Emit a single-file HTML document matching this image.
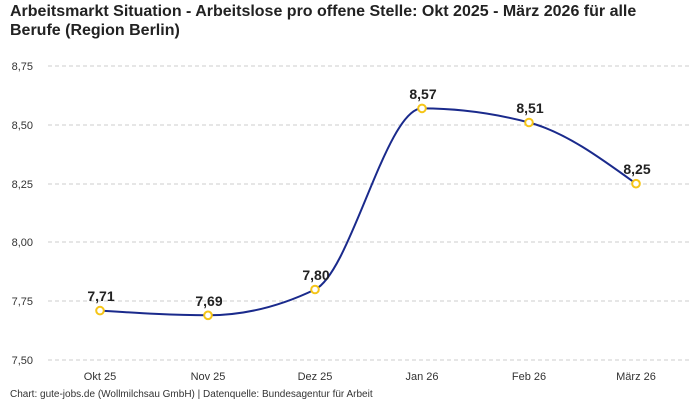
<!DOCTYPE html>
<html><head><meta charset="utf-8"><style>
body{margin:0;background:#fff;width:700px;height:400px;overflow:hidden;font-family:"Liberation Sans",sans-serif}
</style></head><body>
<svg width="700" height="400" xmlns="http://www.w3.org/2000/svg" font-family="Liberation Sans, sans-serif">
<rect width="700" height="400" fill="#fff"/>
<text x="10" y="16" font-size="16" font-weight="bold" fill="#222">Arbeitsmarkt Situation - Arbeitslose pro offene Stelle: Okt 2025 - März 2026 für alle</text>
<text x="10" y="35" font-size="16" font-weight="bold" fill="#222">Berufe (Region Berlin)</text>
<g stroke="#ccc" stroke-dasharray="4,3" stroke-width="1">
<line x1="48" x2="690" y1="66" y2="66"/><line x1="48" x2="690" y1="125" y2="125"/>
<line x1="48" x2="690" y1="184" y2="184"/><line x1="48" x2="690" y1="242" y2="242"/>
<line x1="48" x2="690" y1="301" y2="301"/><line x1="48" x2="690" y1="360" y2="360"/>
</g>
<g font-size="11" fill="#333" text-anchor="end">
<text x="33" y="70">8,75</text><text x="33" y="129">8,50</text><text x="33" y="188">8,25</text>
<text x="33" y="246">8,00</text><text x="33" y="305">7,75</text><text x="33" y="364">7,50</text>
</g>
<g font-size="11" fill="#333" text-anchor="middle">
<text x="100" y="380">Okt 25</text><text x="208" y="380">Nov 25</text><text x="315" y="380">Dez 25</text>
<text x="422" y="380">Jan 26</text><text x="529" y="380">Feb 26</text><text x="636" y="380">März 26</text>
</g>
<path d="M100,310.6 C136,312.9 172,315.3 208,315.3 C243.7,315.3 279.3,306.7 315,289.5 C350.7,272.3 386.3,108.4 422,108.4 C457.7,108.4 493.3,113.1 529,122.5 C564.7,131.9 600.3,157.8 636,183.7" fill="none" stroke="#1a2a8c" stroke-width="2"/>
<g fill="#fff" stroke="#f5c518" stroke-width="2">
<circle cx="100" cy="310.6" r="3.8"/><circle cx="208" cy="315.3" r="3.8"/><circle cx="315" cy="289.5" r="3.8"/>
<circle cx="422" cy="108.4" r="3.8"/><circle cx="529" cy="122.5" r="3.8"/><circle cx="636" cy="183.7" r="3.8"/>
</g>
<g font-size="14" font-weight="bold" fill="#222" text-anchor="middle">
<text x="101" y="301">7,71</text><text x="209" y="306">7,69</text><text x="316" y="280">7,80</text>
<text x="423" y="99">8,57</text><text x="530" y="113">8,51</text><text x="637" y="174">8,25</text>
</g>
<text x="10" y="397" font-size="10" fill="#333">Chart: gute-jobs.de (Wollmilchsau GmbH) | Datenquelle: Bundesagentur für Arbeit</text>
</svg>
</body></html>
